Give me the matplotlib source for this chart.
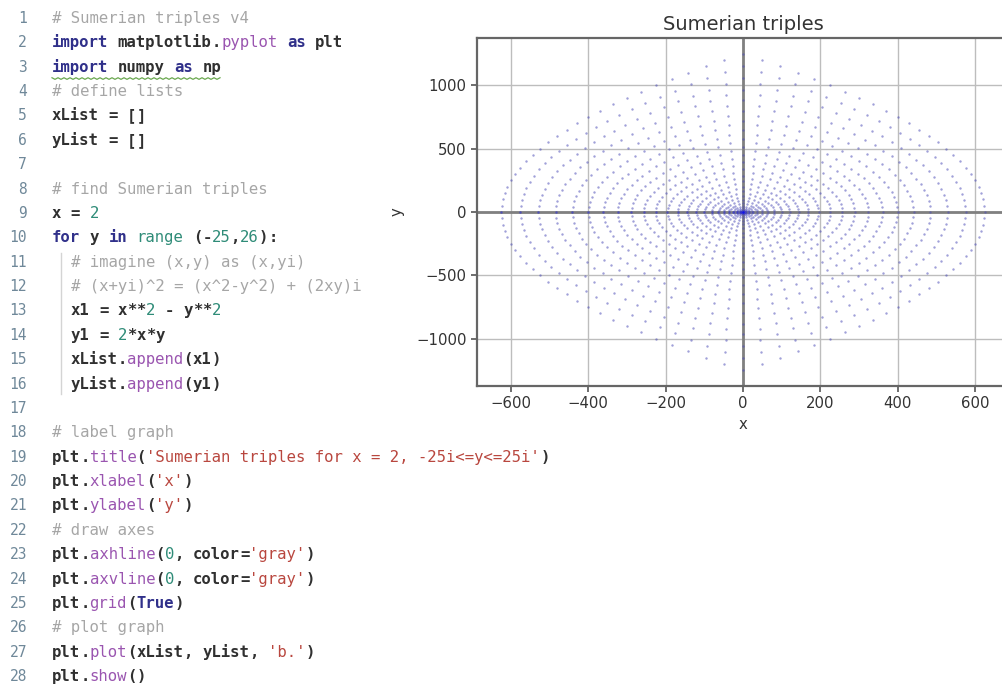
import re
import matplotlib.pyplot as plt
import numpy as np

# Gaussian integers z = a + bi that get squared: z^2 = (a^2 - b^2) + (2ab)i
real_parts = [0, 1, 2, 3, 4, 5, 6, 7, 8, 9, 10, 11, 12, 13, 14, 15, 16, 17, 18,
              19, 20, 21, 22, 23, 24, 25]
imag_parts = [-25, -24, -23, -22, -21, -20, -19, -18, -17, -16, -15, -14, -13,
              -12, -11, -10, -9, -8, -7, -6, -5, -4, -3, -2, -1, 0, 1, 2, 3, 4,
              5, 6, 7, 8, 9, 10, 11, 12, 13, 14, 15, 16, 17, 18, 19, 20, 21,
              22, 23, 24, 25]

xticks = [-600, -400, -200, 0, 200, 400, 600]
yticks = [-1000, -500, 0, 500, 1000]

code_lines = [
    "# Sumerian triples v4",
    "import matplotlib.pyplot as plt",
    "import numpy as np",
    "# define lists",
    "xList = []",
    "yList = []",
    "",
    "# find Sumerian triples",
    "x = 2",
    "for y in range (-25,26):",
    "  # imagine (x,y) as (x,yi)",
    "  # (x+yi)^2 = (x^2-y^2) + (2xy)i",
    "  x1 = x**2 - y**2",
    "  y1 = 2*x*y",
    "  xList.append(x1)",
    "  yList.append(y1)",
    "",
    "# label graph",
    "plt.title('Sumerian triples for x = 2, -25i<=y<=25i')",
    "plt.xlabel('x')",
    "plt.ylabel('y')",
    "# draw axes",
    "plt.axhline(0, color='gray')",
    "plt.axvline(0, color='gray')",
    "plt.grid(True)",
    "# plot graph",
    "plt.plot(xList, yList, 'b.')",
    "plt.show()",
]

# editor colour scheme
COL_TEXT = "#303030"
COL_KW = "#30308a"
COL_METHOD = "#9a55b0"
COL_STR = "#b9473f"
COL_NUM = "#2f8c78"
COL_COMMENT = "#a6a6a6"
COL_LINENO = "#6f8899"
KEYWORDS = {"import", "as", "for", "in", "True"}

fig = plt.figure(figsize=(10.02, 6.9), dpi=100)

# overlay in pixel units for the source listing
ov = fig.add_axes([0, 0, 1, 1])
ov.set_xlim(0, 1002)
ov.set_ylim(690, 0)
ov.axis("off")

x0, cw = 52, 9.4
fsize = cw / 0.602 * 72 / 100
y_first, dy = 23, 24.37
token_re = re.compile(r"(#.*$)|('[^']*')|(\d+)|([A-Za-z_]\w*)|(\s+)|(.)")

for i, line in enumerate(code_lines):
    yb = y_first + i * dy
    ov.text(27, yb, str(i + 1), ha="right", va="baseline",
            family="DejaVu Sans Mono", size=10.5, color=COL_LINENO)
    col = 0
    prev = ""
    for m in token_re.finditer(line):
        tok = m.group(0)
        if m.group(1):
            color, weight = COL_COMMENT, "normal"
        elif m.group(2):
            color, weight = COL_STR, "normal"
        elif m.group(3):
            color, weight = COL_NUM, "normal"
        elif m.group(4):
            if tok in KEYWORDS:
                color, weight = COL_KW, "bold"
            elif tok == "range":
                color, weight = COL_NUM, "normal"
            elif prev == ".":
                color, weight = COL_METHOD, "normal"
            else:
                color, weight = COL_TEXT, "bold"
        else:
            color, weight = COL_TEXT, "bold"
        if not tok.isspace():
            ov.text(x0 + col * cw, yb, tok, ha="left", va="baseline",
                    family="DejaVu Sans Mono", size=fsize, color=color,
                    weight=weight)
            prev = tok
        col += len(tok)

# indent guide for the loop body
ov.plot([x0 + cw, x0 + cw], [y_first + 10 * dy - 14, y_first + 15 * dy + 5],
        color="#d4d4d4", lw=1)

# unused-import squiggle under line 3
sq_x = np.arange(x0, x0 + 18 * cw, 3)
sq_y = y_first + 2 * dy + 6 + np.where(np.arange(len(sq_x)) % 2 == 0, 0, 1.6)
ov.plot(sq_x, sq_y, color="#6aa84f", lw=0.9)

# the scatter of squared Gaussian integers
xList = []
yList = []
for a in real_parts:
    for b in imag_parts:
        xList.append(a ** 2 - b ** 2)
        yList.append(2 * a * b)

ax = fig.add_axes([477 / 1002, (690 - 386) / 690, 532 / 1002, 348 / 690])
ax.plot(xList, yList, ".", color="#7c7c92", ms=3.4, mew=0, alpha=0.42, zorder=3)
ax.plot(xList, yList, "b.", ms=3.4, mew=0, alpha=0.2, zorder=3)
ax.axhline(0, color="gray", lw=2, zorder=2)
ax.axvline(0, color="gray", lw=2, zorder=2)
ax.grid(True, color="#bdbdbd", lw=1)
ax.set_axisbelow(True)
ax.set_xlim(-687.5, 687.5)
ax.set_ylim(-1375, 1375)
ax.set_xticks(xticks)
ax.set_yticks(yticks)
ax.tick_params(labelsize=10.7, colors="#555555", labelcolor="#333333",
               width=1.2, length=4)
for sp in ax.spines.values():
    sp.set_color("#666666")
    sp.set_linewidth(1.6)
ax.set_title("Sumerian triples", fontsize=14, color="#333333")
ax.set_xlabel("x", fontsize=10.7, color="#333333")
ax.set_ylabel("y", fontsize=10.7, color="#333333", labelpad=8)

fig.savefig("out.png", dpi=100)
